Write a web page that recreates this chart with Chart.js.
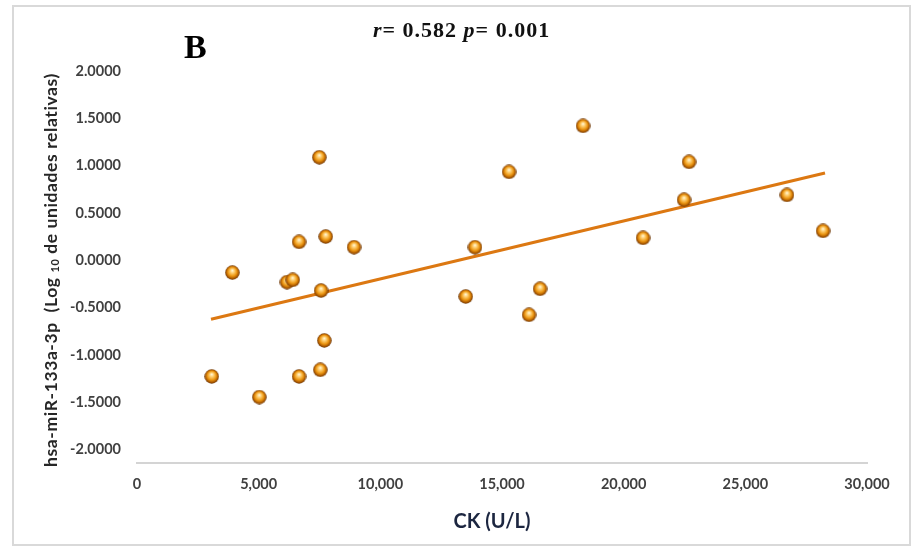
<!DOCTYPE html>
<html>
<head>
<meta charset="utf-8">
<script src="https://cdn.jsdelivr.net/npm/chart.js@4.4.1/dist/chart.umd.min.js"></script>
<style>
  html, body { margin: 0; padding: 0; background: #fff; }
  #wrap { position: relative; width: 919px; height: 553px; }
  #frame { position: absolute; left: 12px; top: 5px; width: 899px; height: 541px; border: 2px solid #d9d9d9; box-sizing: border-box; pointer-events: none; }
  #letter { position: absolute; left: 184px; top: 28px; font: bold 34px "Liberation Serif", serif; color: #000; }
  #stats { position: absolute; left: 373px; top: 17px; font: bold 22px "Liberation Serif", serif; letter-spacing: 1px; color: #111; white-space: nowrap; }
  #ytitle { position: absolute; left: 50px; top: 270px; transform: translate(-50%, -50%) rotate(-90deg); font: bold 17.5px Lato, sans-serif; letter-spacing: 0.6px; color: #262626; white-space: nowrap; }
  #ytitle sub { font-size: 11px; vertical-align: -2px; }
  #xtitle { position: absolute; left: 492px; top: 520px; transform: translate(-50%, -50%); font: bold 20px Lato, sans-serif; color: #1c2640; white-space: nowrap; }
</style>
</head>
<body>
<div id="wrap">
  <canvas id="chart" width="919" height="553"></canvas>
  <div id="frame"></div>
  <div id="letter">B</div>
  <div id="stats"><i>r</i>= 0.582 <i>p</i>= 0.001</div>
  <div id="ytitle">hsa-miR-133a-3p&nbsp; (Log <sub>10</sub> de unidades relativas)</div>
  <div id="xtitle">CK (U/L)</div>
</div>
<script>
// CK (U/L) per patient
const ckValues = [3070, 3917, 5026, 6164, 6399, 6658, 6658, 7492, 7533, 7562, 7697, 7755,
  8918, 13508, 13890, 15288, 16110, 16562, 18329, 20795, 22480, 22685, 26712, 28192];
// hsa-miR-133a-3p, log10 relative units
const mirValues = [-1.226, -0.129, -1.444, -0.230, -0.206, 0.195, -1.226, 1.089, -1.156, -0.319, -0.846, 0.251,
  0.139, -0.382, 0.139, 0.934, -0.575, -0.301, 1.420, 0.237, 0.639, 1.040, 0.691, 0.311];
// linear trend line end points
const trendX = [3041, 28274];
const trendY = [-0.621, 0.923];
const yTicks = [-2, -1.5, -1, -0.5, 0, 0.5, 1, 1.5, 2];
const xTicks = [0, 5000, 10000, 15000, 20000, 25000, 30000];

// small shaded ball used as point marker
function makeBall(size) {
  const c = document.createElement("canvas");
  c.width = size; c.height = size;
  const g = c.getContext("2d");
  const r = size / 2;
  const grad = g.createRadialGradient(r, r * 0.7, 0, r, r, r);
  grad.addColorStop(0, "#fffbe6");
  grad.addColorStop(0.25, "#ffd37a");
  grad.addColorStop(0.6, "#eb940f");
  grad.addColorStop(0.85, "#a35300");
  grad.addColorStop(1, "#4d2400");
  g.fillStyle = grad;
  g.beginPath();
  g.arc(r, r, r - 0.3, 0, Math.PI * 2);
  g.fill();
  return c;
}
const ball = makeBall(15);

const points = ckValues.map((x, i) => ({ x: x, y: mirValues[i] }));
const trend = trendX.map((x, i) => ({ x: x, y: trendY[i] }));

const tickFont = { family: "Lato", size: 14.5, weight: "bold" };

new Chart(document.getElementById("chart"), {
  type: "scatter",
  data: {
    datasets: [
      {
        label: "Tendencia",
        data: trend,
        showLine: true,
        borderColor: "#dc7812",
        borderWidth: 3,
        pointRadius: 0,
        order: 2,
      },
      {
        label: "miR-133a-3p",
        data: points,
        pointStyle: ball,
        pointRadius: 7.5,
        order: 1,
      },
    ],
  },
  options: {
    responsive: false,
    animation: false,
    layout: { padding: { left: 0, top: 71, right: 52, bottom: 0 } },
    plugins: { legend: { display: false }, tooltip: { enabled: false } },
    scales: {
      x: {
        type: "linear",
        min: 0,
        max: 30000,
        afterFit: (scale) => { scale.height = 90; },
        afterBuildTicks: (scale) => { scale.ticks = xTicks.map((v) => ({ value: v })); },
        grid: { display: false, drawTicks: false },
        border: { display: true, color: "#d4d4d4", width: 2 },
        ticks: {
          padding: 13,
          color: "#404040",
          font: tickFont,
          maxRotation: 0,
          callback: (v) => v === 0 ? "0" : v.toLocaleString("en-US"),
        },
      },
      y: {
        min: -2.14,
        max: 2,
        afterFit: (scale) => { scale.width = 137; },
        afterBuildTicks: (scale) => { scale.ticks = yTicks.map((v) => ({ value: v })); },
        grid: { display: false, drawTicks: false },
        border: { display: false },
        ticks: {
          padding: 16,
          color: "#404040",
          font: tickFont,
          callback: (v) => v.toFixed(4),
        },
      },
    },
  },
});
</script>
</body>
</html>
